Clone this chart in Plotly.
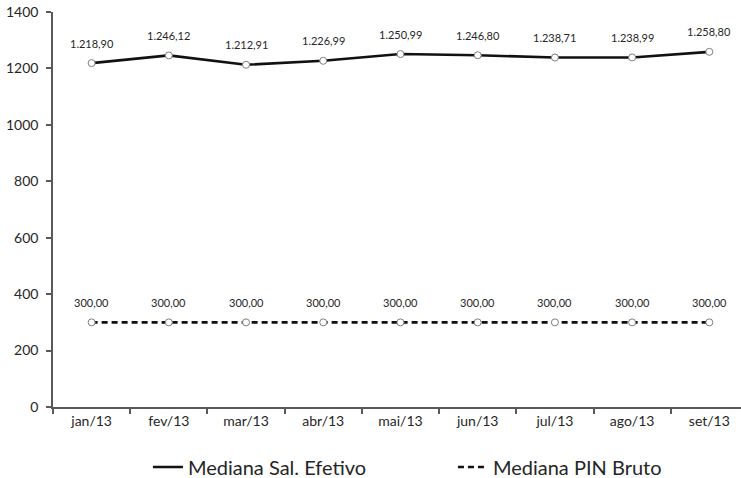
import plotly.graph_objects as go

# Monthly medians (R$)
months = ["jan/13", "fev/13", "mar/13", "abr/13", "mai/13", "jun/13", "jul/13", "ago/13", "set/13"]
sal_efetivo = [1218.90, 1246.12, 1212.91, 1226.99, 1250.99, 1246.80, 1238.71, 1238.99, 1258.80]
pin_bruto = [300.00, 300.00, 300.00, 300.00, 300.00, 300.00, 300.00, 300.00, 300.00]
y_ticks = [0, 200, 400, 600, 800, 1000, 1200, 1400]


def br(v):
    # Brazilian number format: 1.234,56
    s = f"{v:,.2f}"
    return s.replace(",", "X").replace(".", ",").replace("X", ".")


FONT = "Lato, 'Open Sans', sans-serif"
TEXT = "#262626"
marker = dict(symbol="circle", size=7, color="white", line=dict(color="#7f7f7f", width=1))

fig = go.Figure()
series = [
    ("Mediana Sal. Efetivo", sal_efetivo, "solid"),
    ("Mediana PIN Bruto", pin_bruto, "6px,4px"),
]
# one line trace (shown in the legend) and one marker trace per series
for name, values, dash in series:
    fig.add_trace(go.Scatter(
        x=months, y=values, mode="lines", name=name,
        line=dict(color="#111111", width=2.6, dash=dash),
    ))
for name, values, dash in series:
    fig.add_trace(go.Scatter(
        x=months, y=values, mode="markers", name=name, showlegend=False,
        marker=marker, hoverinfo="skip",
    ))

# value labels above each point
for name, values, dash in series:
    for m, v in zip(months, values):
        fig.add_annotation(
            x=m, y=v, text=br(v), showarrow=False, yshift=20,
            font=dict(family=FONT, size=11, color=TEXT),
        )

fig.update_layout(
    width=741, height=478,
    margin=dict(l=53, r=0, t=12, b=71, autoexpand=False),
    paper_bgcolor="white", plot_bgcolor="white",
    font=dict(family=FONT, color=TEXT),
    showlegend=True,
    legend=dict(
        orientation="h", x=0.138, xanchor="left", y=-0.152, yanchor="middle",
        font=dict(family=FONT, size=20, color=TEXT),
        entrywidth=260, itemwidth=30,
    ),
)
fig.update_xaxes(
    type="category", range=[-0.5, 8.41], automargin=False,
    tickson="boundaries", ticks="outside", ticklen=5, tickcolor="#595959", tickwidth=1.5,
    showline=True, linecolor="#595959", linewidth=1.5, showgrid=False, zeroline=False,
    tickfont=dict(family=FONT, size=14, color=TEXT),
)
fig.update_yaxes(
    range=[0, 1400], tickvals=y_ticks, automargin=False,
    ticks="outside", ticklen=5, tickcolor="#595959", tickwidth=1.5, ticklabelstandoff=5,
    showline=True, linecolor="#595959", linewidth=1.5, showgrid=False, zeroline=False,
    tickfont=dict(family=FONT, size=14, color=TEXT),
)

fig.write_html("out.html")
